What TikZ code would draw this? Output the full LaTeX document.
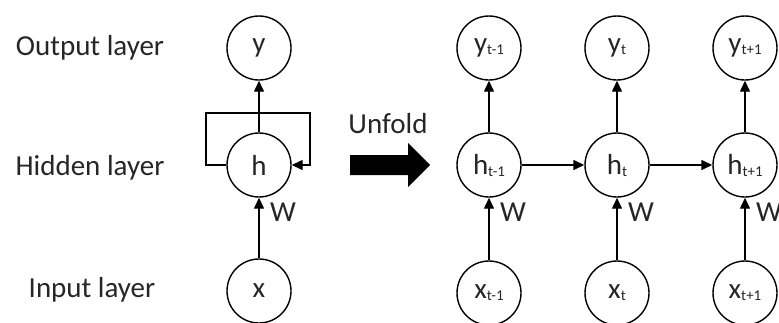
\documentclass[tikz,border=0pt]{standalone}
\usepackage{fontspec}
\setmainfont{Carlito}
\usetikzlibrary{positioning,arrows.meta}

\newcommand{\tsub}[1]{\raisebox{-2pt}{\fontsize{15}{15}\selectfont #1}}

\begin{document}
\begin{tikzpicture}[
    x=1pt, y=-1pt,
    >={Triangle[length=11pt,width=10pt]},
    line width=1.4pt,
    every node/.style={font=\fontsize{29}{31}\selectfont, text=black!85},
    unit/.style={draw, circle, minimum size=64pt, inner sep=0pt},
    layerlabel/.style={anchor=base, inner sep=0pt},
    wlabel/.style={inner sep=0pt}
]

\useasboundingbox (0,0) rectangle (779,322);

%======================
% Layer names
%======================

\node[layerlabel] (outlbl) at (90,55)  {Output layer};
\node[layerlabel] (hidlbl) at (90,175) {Hidden layer};
\node[layerlabel] (inlbl)  at (92,297) {Input layer};

%======================
% Folded network
%======================

\node[unit] (y) at (259,48)  {y};
\node[unit] (h) at (259,165) {h};
\node[unit] (x) at (259,291) {x};

\coordinate (loopL) at (206,113);
\coordinate (loopR) at (310,113);

\draw[->] (x) -- (h);
\draw[->] (h) -- (y);
\draw[->] (h.west) -| (loopL) -- (loopR) |- (h.east);

\node[wlabel] (w) at (283,212) {W};

%======================
% Unfold arrow
%======================

\node[layerlabel] (unfold) at (388,133) {Unfold};
\fill[black] (350,155) -- (408,155) -- (408,143) -- (430,165)
    -- (408,187) -- (408,175) -- (350,175) -- cycle;

%======================
% Unfolded network
%======================

\node[unit] (yprev) at (489,48)  {y\tsub{t-1}};
\node[unit] (hprev) at (489,165) {h\tsub{t-1}};
\node[unit] (xprev) at (489,293) {x\tsub{t-1}};

\node[unit] (ycur) at (617,48)  {y\tsub{t}};
\node[unit] (hcur) at (617,165) {h\tsub{t}};
\node[unit] (xcur) at (617,293) {x\tsub{t}};

\node[unit] (ynext) at (745,48)  {y\tsub{t+1}};
\node[unit] (hnext) at (745,165) {h\tsub{t+1}};
\node[unit] (xnext) at (745,293) {x\tsub{t+1}};

% vertical connections
\draw[->] (xprev) -- (hprev);
\draw[->] (hprev) -- (yprev);
\draw[->] (xcur) -- (hcur);
\draw[->] (hcur) -- (ycur);
\draw[->] (xnext) -- (hnext);
\draw[->] (hnext) -- (ynext);

% hidden to hidden
\draw[->] (hprev) -- (hcur);
\draw[->] (hcur) -- (hnext);

% weights
\node[wlabel] (wprev) at (513,212) {W};
\node[wlabel] (wcur)  at (641,212) {W};
\node[wlabel] (wnext) at (769,212) {W};

\end{tikzpicture}
\end{document}
